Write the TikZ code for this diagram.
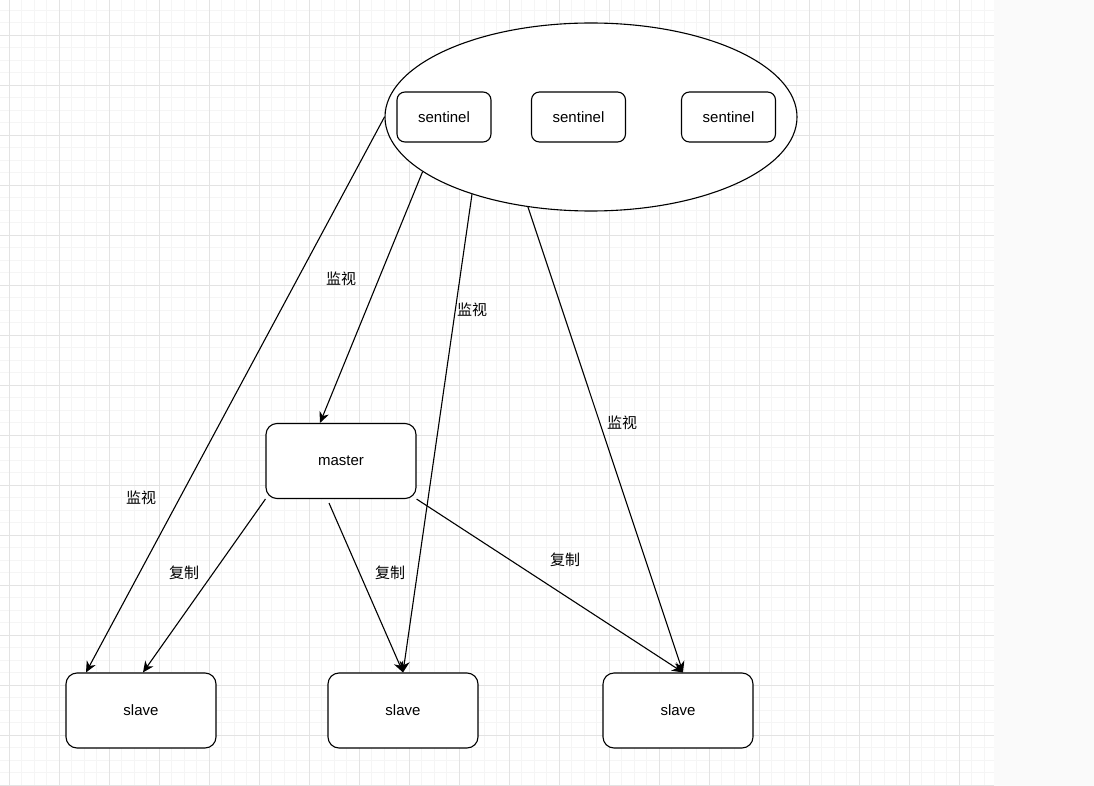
\documentclass[tikz,border=0pt]{standalone}
\usepackage{fontspec}
\setmainfont{Liberation Sans}
\newfontfamily\cjk{Noto Sans CJK SC}
\usetikzlibrary{arrows.meta,shapes.geometric,calc}

\begin{document}
\begin{tikzpicture}[
  x=1pt,y=-1pt,
  font=\fontsize{15}{18}\selectfont,
  box/.style={rectangle,draw,rounded corners=11pt,fill=white,align=center,minimum width=150pt,minimum height=75pt,line width=1.1pt},
  sbox/.style={box,rounded corners=8pt,minimum width=94pt,minimum height=50pt},
  lbl/.style={font=\cjk\fontsize{15}{18}\selectfont,inner sep=1pt},
  arr/.style={-{Stealth[length=11pt,width=10pt,inset=3.5pt]},line width=1.1pt},
  minor/.style={gray!8,line width=0.8pt},
  major/.style={gray!22,line width=0.8pt}
]
\useasboundingbox (0,0) rectangle (1094,786);
% canvas grid
\fill[white] (0,0) rectangle (994,786);
\fill[gray!4] (994,0) rectangle (1094,786);
\foreach \k in {0,...,78} \draw[minor] ({9+12.5*\k},0) -- ({9+12.5*\k},786);
\foreach \k in {0,...,62} \draw[minor] (0,{10+12.5*\k}) -- (994,{10+12.5*\k});
\foreach \k in {0,...,19} \draw[major] ({9+50*\k},0) -- ({9+50*\k},786);
\foreach \k in {0,...,15} \draw[major] (0,{35+50*\k}) -- (994,{35+50*\k});

\node[ellipse,draw,fill=white,line width=1.1pt,minimum width=412pt,minimum height=188pt,inner sep=0pt] (sen) at (591,117) {};
\node[sbox] (s1) at (444,117) {sentinel};
\node[sbox] (s2) at (578.5,117) {sentinel};
\node[sbox] (s3) at (728.5,117) {sentinel};
\node[box] (master) at (341,461) {master};
\node[box] (sl1) at (141,710.5) {slave};
\node[box] (sl2) at (403,710.5) {slave};
\node[box] (sl3) at (678,710.5) {slave};

\node[lbl] (w1) at (141,498) {监视};
\node[lbl] (w2) at (341,279) {监视};
\node[lbl] (w3) at (472,310) {监视};
\node[lbl] (w4) at (622,423) {监视};
\node[lbl] (c1) at (184,573) {复制};
\node[lbl] (c2) at (390,573) {复制};
\node[lbl] (c3) at (565,560) {复制};

\draw[arr] (sen.180) -- ($(sl1.north)+(-55,0)$);
\draw[arr] (sen.198) -- ($(master.north)+(-21,0)$);
\draw[arr] (sen.213) -- (sl2.north);
\draw[arr] (sen.235) -- ($(sl3.north)+(5,0)$);
\draw[arr] (master.south west) -- ($(sl1.north)+(2,0)$);
\draw[arr] ($(master.south)+(-12,4)$) -- (sl2.north);
\draw[arr] (master.south east) -- ($(sl3.north)+(5,0)$);
\end{tikzpicture}
\end{document}
